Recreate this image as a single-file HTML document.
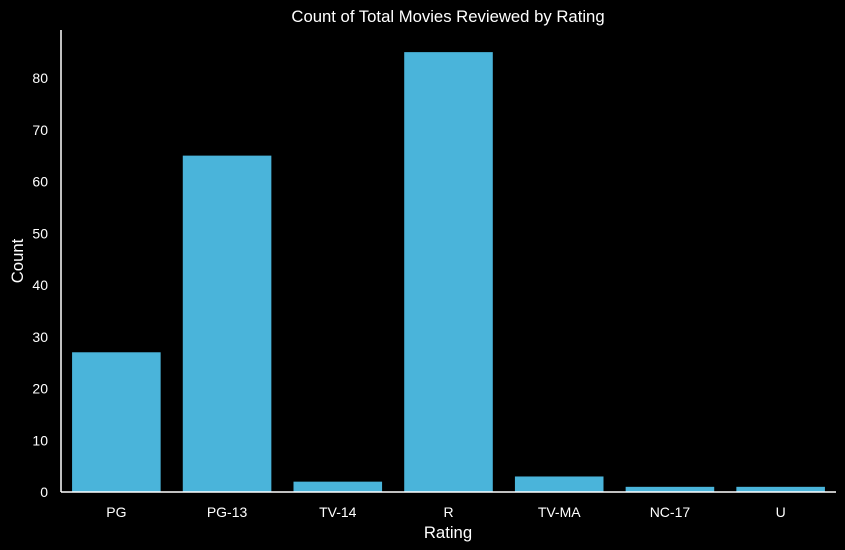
<!DOCTYPE html>
<html><head><meta charset="utf-8"><style>
html,body{margin:0;padding:0;background:#000;}
svg{display:block;font-family:"Liberation Sans",sans-serif;}
</style></head><body>
<svg id="chart" width="845" height="550" viewBox="0 0 845 550">
<rect width="845" height="550" fill="#000"/>
<text x="448" y="22" fill="#fff" font-size="16.7" text-anchor="middle">Count of Total Movies Reviewed by Rating</text>
<g id="bars"></g><g id="yticks"></g><g id="xticks"></g>
<line x1="61" y1="30" x2="61" y2="492" stroke="#fff" stroke-width="1.5"/>
<line x1="61" y1="492" x2="836" y2="492" stroke="#fff" stroke-width="1.5"/>
<text x="448" y="538" fill="#fff" font-size="16.7" text-anchor="middle">Rating</text>
<text transform="translate(23,261) rotate(-90)" fill="#fff" font-size="16.7" text-anchor="middle">Count</text>
</svg>
<script>
const categories=["PG","PG-13","TV-14","R","TV-MA","NC-17","U"];
const counts=[27,65,2,85,3,1,1];
const yTicks=[0,10,20,30,40,50,60,70,80];
const NS="http://www.w3.org/2000/svg";
const x0=61,x1=836,y0=492,pxPerUnit=5.175;
const band=(x1-x0)/categories.length;
const y=v=>y0-v*pxPerUnit;
const xc=i=>x0+band*(i+0.5);
const bars=document.getElementById('bars'),xt=document.getElementById('xticks'),yt=document.getElementById('yticks');
categories.forEach((c,i)=>{
  const r=document.createElementNS(NS,'rect');
  r.setAttribute('x',xc(i)-band*0.4);r.setAttribute('width',band*0.8);
  r.setAttribute('y',y(counts[i]));r.setAttribute('height',y0-y(counts[i]));
  r.setAttribute('fill','#4ab4da');
  
  
  bars.appendChild(r);
  const t=document.createElementNS(NS,'text');
  t.setAttribute('x',xc(i));t.setAttribute('y',517);t.setAttribute('fill','#fff');
  t.setAttribute('font-size','14');t.setAttribute('text-anchor','middle');t.textContent=c;
  
  
  xt.appendChild(t);
});
yTicks.forEach(v=>{
  const t=document.createElementNS(NS,'text');
  t.setAttribute('x',48);t.setAttribute('y',y(v)+5);t.setAttribute('fill','#fff');
  t.setAttribute('font-size','14');t.setAttribute('text-anchor','end');t.textContent=v;
  
  
  yt.appendChild(t);
});
</script>
</body></html>
